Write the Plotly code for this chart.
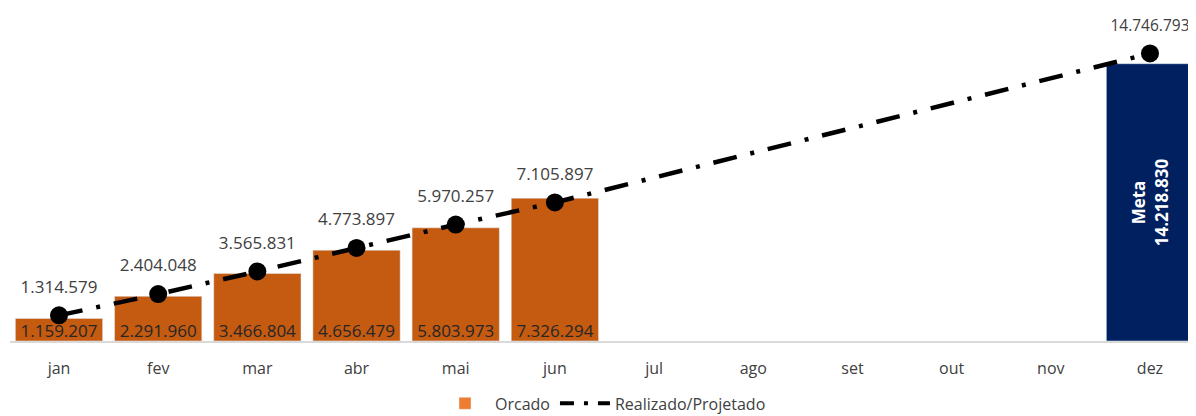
import plotly.graph_objects as go

months = ["jan", "fev", "mar", "abr", "mai", "jun", "jul", "ago", "set", "out", "nov", "dez"]
orcado = [1159207, 2291960, 3466804, 4656479, 5803973, 7326294, None, None, None, None, None, None]
realizado = [1314579, 2404048, 3565831, 4773897, 5970257, 7105897, None, None, None, None, None, 14746793]
meta = [None] * 11 + [14218830]


def fmt(v):
    return f"{v:,}".replace(",", ".") if v is not None else ""


FONT = "Open Sans, Noto Sans, sans-serif"
fig = go.Figure()

# Orcado bars (jan-jun)
fig.add_trace(go.Bar(
    x=months, y=orcado, marker_color="#C55A11", width=0.88,
    showlegend=False, hoverinfo="skip",
))
# Meta bar (dez)
fig.add_trace(go.Bar(
    x=months, y=meta, marker_color="#002060", width=0.88,
    text=["" if v is None else f"<b>Meta<br>{fmt(v)}</b>" for v in meta],
    textposition="inside", insidetextanchor="middle", textangle=-90,
    textfont=dict(color="white", size=17, family=FONT),
    showlegend=False, hoverinfo="skip",
))
# Orcado values at the base of bars
fig.add_trace(go.Scatter(
    x=months, y=[0 if v is not None else None for v in orcado],
    mode="text", text=[fmt(v) for v in orcado], textposition="top center",
    textfont=dict(color="#262626", size=17, family=FONT),
    showlegend=False, hoverinfo="skip", cliponaxis=False,
))
# Realizado / Projetado line
fig.add_trace(go.Scatter(
    x=months, y=realizado, mode="lines+markers", connectgaps=True,
    line=dict(color="black", width=4.5, dash="24px,14px,4px,14px"),
    marker=dict(color="black", size=18),
    showlegend=False, hoverinfo="skip", cliponaxis=False,
))
# Realizado value labels (offset above markers)
fig.add_trace(go.Scatter(
    x=months[:-1], y=realizado[:-1], mode="markers+text",
    marker=dict(size=28, opacity=0),
    text=[fmt(v) for v in realizado[:-1]], textposition="top center",
    textfont=dict(color="#404040", size=17, family=FONT),
    showlegend=False, hoverinfo="skip", cliponaxis=False,
))
fig.add_trace(go.Scatter(
    x=months[-1:], y=realizado[-1:], mode="markers+text",
    marker=dict(size=28, opacity=0),
    text=[fmt(v) for v in realizado[-1:]], textposition="top center",
    textfont=dict(color="#404040", size=15.5, family=FONT),
    showlegend=False, hoverinfo="skip", cliponaxis=False,
))
# Legend-only entries
fig.add_trace(go.Bar(x=[None], y=[None], name="Orcado", marker_color="#ED7D31"))
fig.add_trace(go.Scatter(x=[None], y=[None], name="Realizado/Projetado", mode="lines",
                         line=dict(color="black", width=4, dash="14px,10px,4px,10px")))

fig.update_layout(
    width=1188, height=408,
    margin=dict(l=2, r=0, t=21, b=75, autoexpand=False),
    plot_bgcolor="white", paper_bgcolor="white",
    barmode="overlay",
    font=dict(family=FONT, color="#404040", size=16),
    xaxis=dict(range=[-0.494, 11.464], showgrid=False, showline=True, linecolor="#D9D9D9",
               linewidth=2, ticks="", ticklabelstandoff=12,
               tickfont=dict(size=16, color="#404040")),
    yaxis=dict(range=[0, 16000000], visible=False),
    legend=dict(orientation="h", x=0.5, xanchor="center", y=-0.2, yanchor="middle",
                font=dict(size=16, color="#404040"), itemwidth=50),
)

fig.write_html("out.html")
